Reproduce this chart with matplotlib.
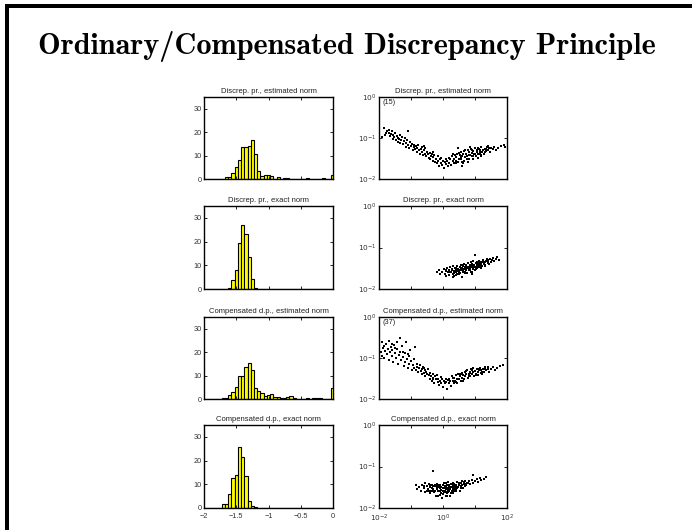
import numpy as np
import matplotlib.pyplot as plt
from matplotlib.patches import Rectangle
from matplotlib.ticker import FixedLocator, NullLocator

plt.rcParams['font.family'] = ['Liberation Sans', 'DejaVu Sans']

# histogram bin centres (-2:0.05:0) and percentages per bin
bin_centers = [round(-2 + 0.05 * k, 2) for k in range(41)]

hist_dp_est = [0, 0, 0, 0, 0, 0, 0, 1.0, 1.0, 2.5, 5.0, 8.0, 13.5, 13.5, 14.0, 16.5, 10.5,
               3.5, 1.2, 1.7, 1.8, 1.3, 0, 1.0, 0, 0.5, 0.3, 0, 0, 0, 0, 0, 0.3, 0, 0, 0,
               0, 0.3, 0, 0, 1.5]
hist_dp_exact = [0, 0, 0, 0, 0, 0, 0, 0, 0.5, 3.6, 8.0, 19.6, 27.0, 23.4, 13.7, 4.1, 0.5,
                 0, 0, 0, 0, 0, 0, 0, 0, 0, 0, 0, 0, 0, 0, 0, 0, 0, 0, 0, 0, 0, 0, 0, 0]
hist_cdp_est = [0, 0, 0, 0, 0, 0, 0.3, 0.5, 1.5, 3.0, 5.0, 9.7, 10.0, 13.8, 15.3, 12.5, 4.7,
                3.5, 2.5, 1.2, 1.5, 2.0, 1.0, 1.0, 0.4, 0.4, 0.8, 1.3, 0.5, 0, 0, 0, 0.5, 0,
                0.3, 0.3, 0.3, 0, 0, 0, 4.5]
hist_cdp_exact = [0, 0, 0, 0, 0, 0, 1.5, 1.5, 6.0, 12.8, 14.0, 25.6, 21.5, 13.3, 3.0, 0.7, 0.3,
                  0.2, 0, 0.2, 0, 0, 0, 0, 0, 0, 0, 0, 0, 0, 0, 0, 0, 0, 0, 0, 0, 0, 0, 0, 0]

# scatter clouds, stored as log10 of the x and y values
dp_est_lx = [-1.92, -1.85, -1.82, -1.78, -1.74, -1.70, -1.68, -1.65, -1.62, -1.60, -1.57, -1.55,
             -1.52, -1.50, -1.47, -1.45, -1.42, -1.40, -1.37, -1.35, -1.33, -1.30, -1.28, -1.25,
             -1.22, -1.20, -1.17, -1.15, -1.12, -1.09, -1.08, -1.05, -1.02, -1.00, -0.97, -0.95,
             -0.92, -0.90, -0.87, -0.85, -0.82, -0.80, -0.77, -0.75, -0.72, -0.70, -0.67, -0.65,
             -0.62, -0.60, -0.57, -0.55, -0.52, -0.50, -0.47, -0.45, -0.42, -0.40, -0.37, -0.35,
             -0.32, -0.30, -0.27, -0.25, -0.22, -0.20, -0.17, -0.15, -0.12, -0.10, -0.07, -0.05,
             -0.02, 0.00, 0.03, 0.05, 0.08, 0.10, 0.12, 0.15, 0.18, 0.20, 0.22, 0.25, 0.28, 0.30,
             0.33, 0.35, 0.37, 0.40, 0.42, 0.45, 0.47, 0.50, 0.52, 0.55, 0.57, 0.60, 0.62, 0.65,
             0.67, 0.70, 0.72, 0.75, 0.77, 0.80, 0.82, 0.85, 0.87, 0.90, 0.92, 0.95, 0.97, 1.00,
             1.02, 1.05, 1.07, 1.10, 1.12, 1.15, 1.17, 1.20, 1.22, 1.25, 1.27, 1.30, 1.33, 1.36,
             1.40, 1.43, 1.47, 1.50, 1.55, 1.60, 1.65, 1.72, 1.80, 1.90, 1.95, 0.48, 0.63, 0.78,
             0.93, 1.08, 0.58, 0.83, 1.18, 0.30, 0.40, 0.50, 0.60, 0.70, 0.80, 0.90, 1.00, 1.10,
             1.20, 1.30, 1.40, 0.35, 0.55, 0.75, 0.95, 1.15, 1.35, -0.60, -0.30]
dp_est_ly = [-0.98, -0.76, -0.93, -0.87, -0.83, -0.88, -0.80, -0.95, -0.90, -0.84, -1.02, -0.92,
             -0.97, -0.88, -1.05, -0.95, -1.10, -0.99, -1.03, -0.92, -1.12, -1.05, -0.97, -1.15,
             -1.08, -1.00, -1.22, -1.12, -1.05, -0.82, -1.18, -1.25, -1.10, -1.20, -1.14, -1.30,
             -1.22, -1.16, -1.28, -1.20, -1.35, -1.25, -1.18, -1.30, -1.38, -1.27, -1.22, -1.35,
             -1.42, -1.30, -1.25, -1.38, -1.45, -1.33, -1.40, -1.48, -1.36, -1.52, -1.43, -1.38,
             -1.55, -1.47, -1.42, -1.58, -1.50, -1.62, -1.45, -1.55, -1.68, -1.52, -1.60, -1.48,
             -1.65, -1.55, -1.72, -1.58, -1.50, -1.63, -1.55, -1.68, -1.48, -1.60, -1.52, -1.65,
             -1.45, -1.57, -1.50, -1.62, -1.42, -1.55, -1.47, -1.38, -1.58, -1.50, -1.42, -1.35,
             -1.52, -1.45, -1.40, -1.55, -1.32, -1.47, -1.38, -1.43, -1.30, -1.50, -1.35, -1.42,
             -1.28, -1.45, -1.37, -1.32, -1.40, -1.25, -1.43, -1.35, -1.30, -1.38, -1.27, -1.33,
             -1.40, -1.23, -1.35, -1.30, -1.38, -1.26, -1.32, -1.22, -1.30, -1.25, -1.33, -1.24,
             -1.28, -1.22, -1.30, -1.25, -1.20, -1.18, -1.22, -1.25, -1.60, -1.58, -1.52, -1.48,
             -1.68, -1.22, -1.45, -1.40, -1.62, -1.36, -1.58, -1.30, -1.42, -1.30, -1.38, -1.24,
             -1.42, -1.33, -1.20, -1.52, -1.46, -1.52, -1.45, -1.29, -1.28, -1.20, -1.35]

dp_exact_lx = [-0.20, -0.12, -0.08, -0.02, 0.02, 0.05, 0.08, 0.10, 0.13, 0.15, 0.18, 0.20, 0.22,
               0.25, 0.27, 0.30, 0.32, 0.33, 0.35, 0.37, 0.40, 0.42, 0.43, 0.45, 0.47, 0.50,
               0.52, 0.53, 0.55, 0.57, 0.60, 0.62, 0.63, 0.65, 0.67, 0.68, 0.70, 0.72, 0.73,
               0.75, 0.77, 0.78, 0.80, 0.82, 0.83, 0.85, 0.87, 0.88, 0.90, 0.92, 0.93, 0.95,
               0.97, 0.98, 1.00, 1.02, 1.03, 1.05, 1.07, 1.08, 1.10, 1.12, 1.13, 1.15, 1.17,
               1.18, 1.20, 1.22, 1.25, 1.27, 1.30, 1.32, 1.35, 1.37, 1.40, 1.42, 1.45, 1.48,
               1.50, 1.53, 1.57, 1.60, 1.65, 1.70, 1.75, 1.00, 0.30, 0.60, 0.90, 0.38, 0.58,
               0.78, 0.98, 1.18, 0.48, 0.68, 0.88, 0.28, 1.08, 0.35, 0.45, 0.55, 0.65, 0.75,
               0.85, 0.95, 1.05, 1.15, 1.25, 0.40, 0.50, 0.60, 0.70, 0.80, 0.90, 1.00, 1.10,
               1.20, 0.20, 0.10, 0.62, 0.72, 0.82, 0.92, 1.02, 0.42, 0.52, 1.30, 1.40]
dp_exact_ly = [-1.60, -1.55, -1.65, -1.58, -1.52, -1.63, -1.57, -1.68, -1.50, -1.60, -1.55, -1.66,
               -1.48, -1.58, -1.52, -1.63, -1.45, -1.57, -1.68, -1.50, -1.60, -1.54, -1.45,
               -1.65, -1.52, -1.58, -1.48, -1.62, -1.42, -1.55, -1.50, -1.60, -1.45, -1.53,
               -1.40, -1.58, -1.48, -1.55, -1.43, -1.62, -1.50, -1.38, -1.46, -1.55, -1.42,
               -1.50, -1.36, -1.58, -1.45, -1.40, -1.52, -1.33, -1.48, -1.42, -1.55, -1.38,
               -1.46, -1.50, -1.35, -1.43, -1.40, -1.48, -1.32, -1.42, -1.38, -1.50, -1.35,
               -1.44, -1.30, -1.40, -1.36, -1.45, -1.33, -1.28, -1.38, -1.32, -1.40, -1.27,
               -1.35, -1.30, -1.25, -1.33, -1.28, -1.24, -1.30, -1.18, -1.72, -1.70, -1.65,
               -1.56, -1.53, -1.47, -1.44, -1.40, -1.57, -1.52, -1.47, -1.55, -1.45, -1.62,
               -1.56, -1.50, -1.58, -1.46, -1.54, -1.44, -1.42, -1.46, -1.36, -1.50, -1.64,
               -1.42, -1.62, -1.52, -1.58, -1.48, -1.34, -1.42, -1.58, -1.55, -1.54, -1.50,
               -1.46, -1.48, -1.52, -1.66, -1.54, -1.42, -1.30]

cdp_est_lx = [-1.95, -1.92, -1.90, -1.88, -1.85, -1.83, -1.80, -1.78, -1.76, -1.73, -1.70, -1.68,
              -1.66, -1.63, -1.60, -1.58, -1.55, -1.53, -1.50, -1.48, -1.45, -1.43, -1.40, -1.38,
              -1.35, -1.33, -1.30, -1.28, -1.25, -1.23, -1.20, -1.18, -1.15, -1.12, -1.10, -1.07,
              -1.05, -1.02, -1.00, -0.97, -0.95, -0.92, -0.90, -0.88, -0.85, -0.82, -0.80, -0.77,
              -0.75, -0.72, -0.70, -0.67, -0.65, -0.62, -0.60, -0.57, -0.55, -0.52, -0.50, -0.47,
              -0.45, -0.42, -0.40, -0.37, -0.35, -0.32, -0.30, -0.27, -0.25, -0.22, -0.20, -0.17,
              -0.15, -0.12, -0.10, -0.07, -0.05, -0.02, 0.00, 0.03, 0.05, 0.08, 0.10, 0.12, 0.15,
              0.18, 0.20, 0.23, 0.25, 0.28, 0.30, 0.33, 0.35, 0.38, 0.40, 0.43, 0.45, 0.48, 0.50,
              0.53, 0.55, 0.58, 0.60, 0.63, 0.65, 0.68, 0.70, 0.73, 0.75, 0.78, 0.80, 0.83, 0.85,
              0.88, 0.90, 0.93, 0.95, 0.98, 1.00, 1.03, 1.05, 1.08, 1.10, 1.13, 1.15, 1.18, 1.20,
              1.23, 1.25, 1.28, 1.30, 1.35, 1.40, 1.45, 1.50, 1.55, 1.62, 1.70, 1.78, 1.88,
              0.32, 0.42, 0.52, 0.62, 0.72, 0.82, 0.92, 1.02, 1.12, 1.22, 1.32, 1.42, -1.60,
              -1.50, -1.25, -1.10, -0.60, -0.30, 0.60, 0.85]
cdp_est_ly = [-0.85, -0.62, -0.95, -0.75, -0.70, -1.00, -0.82, -0.65, -0.90, -0.78, -1.05, -0.58,
              -0.85, -0.72, -0.95, -0.80, -1.10, -0.68, -0.88, -1.00, -0.62, -0.78, -1.15, -0.92,
              -0.52, -0.85, -1.05, -0.70, -0.98, -1.20, -0.88, -1.10, -0.60, -1.02, -1.25, -0.95,
              -1.15, -0.80, -1.08, -1.30, -1.18, -1.02, -1.25, -0.72, -1.30, -1.15, -1.22, -1.35,
              -1.25, -1.18, -1.32, -1.40, -1.28, -1.22, -1.36, -1.30, -1.45, -1.33, -1.38, -1.27,
              -1.42, -1.50, -1.36, -1.44, -1.55, -1.40, -1.48, -1.60, -1.45, -1.52, -1.42, -1.58,
              -1.50, -1.65, -1.55, -1.47, -1.60, -1.52, -1.70, -1.56, -1.62, -1.50, -1.58, -1.75,
              -1.53, -1.62, -1.50, -1.57, -1.68, -1.45, -1.55, -1.60, -1.48, -1.55, -1.42, -1.52,
              -1.62, -1.40, -1.50, -1.45, -1.57, -1.37, -1.48, -1.42, -1.52, -1.35, -1.45, -1.40,
              -1.30, -1.48, -1.38, -1.33, -1.43, -1.28, -1.40, -1.35, -1.25, -1.45, -1.32, -1.38,
              -1.27, -1.35, -1.42, -1.30, -1.24, -1.36, -1.30, -1.40, -1.27, -1.33, -1.22, -1.30,
              -1.26, -1.34, -1.28, -1.22, -1.30, -1.25, -1.20, -1.18,
              -1.48, -1.58, -1.38, -1.55, -1.32, -1.45, -1.30, -1.42, -1.27, -1.35, -1.28, -1.22,
              -0.65, -0.75, -0.85, -0.90, -1.25, -1.52, -1.40, -1.36]

cdp_exact_lx = [-0.85, -0.80, -0.75, -0.70, -0.65, -0.60, -0.57, -0.55, -0.50, -0.47, -0.45, -0.42,
                -0.40, -0.37, -0.35, -0.32, -0.30, -0.28, -0.25, -0.22, -0.20, -0.18, -0.15,
                -0.12, -0.10, -0.08, -0.05, -0.03, 0.00, 0.02, 0.04, 0.05, 0.07, 0.08, 0.10,
                0.12, 0.13, 0.15, 0.17, 0.18, 0.20, 0.22, 0.23, 0.25, 0.27, 0.28, 0.30, 0.32,
                0.33, 0.35, 0.37, 0.40, 0.42, 0.45, 0.47, 0.50, 0.52, 0.55, 0.57, 0.60, 0.62,
                0.65, 0.68, 0.70, 0.73, 0.75, 0.80, 0.85, 0.90, 0.93, 0.95, 1.00, 1.05, 1.10,
                1.15, 1.20, 1.27, 1.35, -0.30, -0.15, 0.00, 0.10, 0.20, -0.05, 0.05, 0.15,
                -0.20, 0.25, 0.35, 0.45, -0.10, 0.30, 0.40, 0.00, -0.25, 0.10, -0.50, -0.40,
                -0.30, -0.20, -0.10, 0.00, 0.10, 0.20, 0.30, 0.40, 0.50, 0.60, 0.70, -0.60,
                -0.35, -0.15, 0.05, 0.15, 0.25, 0.35, -0.45, -0.25, -0.05, 0.12, 0.22, 0.32,
                0.42, 0.55, 0.65, 0.78]
cdp_exact_ly = [-1.45, -1.55, -1.50, -1.60, -1.45, -1.52, -1.40, -1.62, -1.48, -1.55, -1.42, -1.65,
                -1.50, -1.58, -1.45, -1.11, -1.55, -1.62, -1.48, -1.70, -1.42, -1.55, -1.60,
                -1.50, -1.68, -1.45, -1.57, -1.75, -1.52, -1.62, -1.40, -1.58, -1.48, -1.72,
                -1.55, -1.45, -1.65, -1.52, -1.38, -1.60, -1.48, -1.55, -1.70, -1.42, -1.58,
                -1.50, -1.63, -1.40, -1.53, -1.47, -1.60, -1.44, -1.55, -1.38, -1.50, -1.45,
                -1.58, -1.40, -1.48, -1.35, -1.52, -1.42, -1.47, -1.36, -1.45, -1.40, -1.35,
                -1.43, -1.32, -1.21, -1.40, -1.35, -1.30, -1.38, -1.28, -1.33, -1.29, -1.26,
                -1.48, -1.45, -1.60, -1.50, -1.58, -1.65, -1.53, -1.62, -1.52, -1.50, -1.55,
                -1.52, -1.58, -1.45, -1.60, -1.45, -1.58, -1.40, -1.58, -1.45, -1.60, -1.47,
                -1.53, -1.67, -1.62, -1.44, -1.55, -1.50, -1.40, -1.45, -1.42, -1.48, -1.52,
                -1.72, -1.47, -1.56, -1.63, -1.42, -1.60, -1.44, -1.50, -1.70, -1.52, -1.58,
                -1.46, -1.52, -1.38, -1.40]

titles = ['Discrep. pr., estimated norm', 'Discrep. pr., exact norm',
          'Compensated d.p., estimated norm', 'Compensated d.p., exact norm']
hists = [hist_dp_est, hist_dp_exact, hist_cdp_est, hist_cdp_exact]
clouds = [(dp_est_lx, dp_est_ly), (dp_exact_lx, dp_exact_ly),
          (cdp_est_lx, cdp_est_ly), (cdp_exact_lx, cdp_exact_ly)]
counts = ['(15)', None, '(37)', None]

W, H = 693, 530
fig = plt.figure(figsize=(W / 100, H / 100), dpi=100)

# slide frame: thick bar on top and on the left
fig.add_artist(Rectangle((5 / W, 1 - 8 / H), 687 / W, 4 / H, transform=fig.transFigure,
                         color='black', lw=0))
fig.add_artist(Rectangle((5 / W, 0), 4 / W, 1 - 4 / H, transform=fig.transFigure,
                         color='black', lw=0))

fig.text(38 / W, 1 - 46 / H, 'Ordinary/Compensated Discrepancy Principle',
         family='cmb10', fontsize=21.8, ha='left', va='center')

rows = [(97, 179), (206, 289), (317, 399), (425, 508)]
fs = 5.3
tick_color = '#333333'


def style(ax):
    ax.tick_params(which='both', direction='in', top=True, right=True, length=2.5,
                   width=0.6, labelsize=fs, labelcolor=tick_color, pad=1.5)
    ax.tick_params(axis='x', pad=3.5)
    for s in ax.spines.values():
        s.set_linewidth(1.0)


for i in range(4):
    top, bot = rows[i]
    h = (bot - top) / H
    y0 = 1 - bot / H

    ax = fig.add_axes([204 / W, y0, 129 / W, h])
    ax.bar(bin_centers, hists[i], width=0.05, color='#ffff00', edgecolor='black', linewidth=0.8)
    ax.set_xlim(-2, 0)
    ax.set_ylim(0, 35)
    ax.set_yticks([0, 10, 20, 30])
    ax.set_xticks([-2, -1.5, -1, -0.5, 0])
    if i < 3:
        ax.set_xticklabels([])
    else:
        ax.set_xticklabels(['\u22122', '\u22121.5', '\u22121', '\u22120.5', '0'])
    ax.set_title(titles[i], fontsize=5.5, pad=3, color='#222222')
    style(ax)

    ax2 = fig.add_axes([379 / W, y0, 128 / W, h])
    lx, ly = clouds[i]
    ax2.plot(10 ** np.array(lx), 10 ** np.array(ly), 's', color='black', ms=1.7, mew=0)
    ax2.set_xscale('log')
    ax2.set_yscale('log')
    ax2.set_xlim(1e-2, 1e2)
    ax2.set_ylim(1e-2, 1e0)
    ax2.xaxis.set_major_locator(FixedLocator([1e-2, 1e-1, 1e0, 1e1, 1e2]))
    ax2.yaxis.set_major_locator(FixedLocator([1e-2, 1e-1, 1e0]))
    ax2.xaxis.set_minor_locator(NullLocator())
    ax2.yaxis.set_minor_locator(NullLocator())
    ax2.set_yticklabels([r'$10^{-2}$', r'$10^{-1}$', r'$10^{0}$'])
    if i < 3:
        ax2.set_xticklabels([])
    else:
        ax2.set_xticklabels([r'$10^{-2}$', '', r'$10^{0}$', '', r'$10^{2}$'])
    ax2.set_title(titles[i], fontsize=5.5, pad=3, color='#222222')
    if counts[i]:
        ax2.text(0.03, 0.97, counts[i], transform=ax2.transAxes, fontsize=fs,
                 ha='left', va='top', color='#222222')
    style(ax2)

fig.savefig('out.png', dpi=100)
